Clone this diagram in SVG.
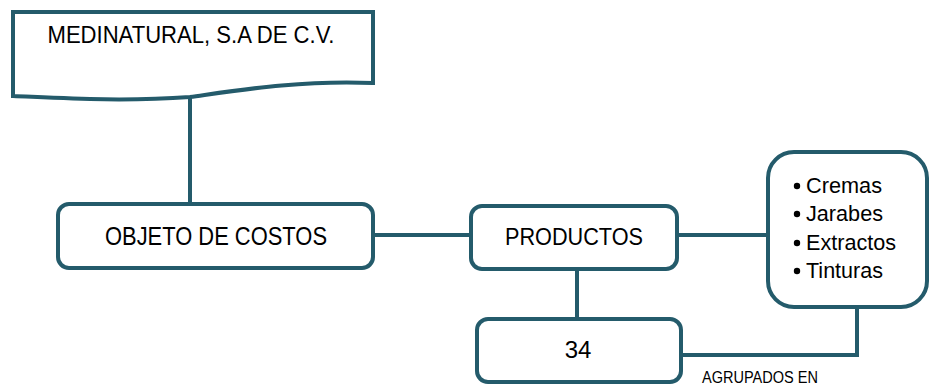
<svg xmlns="http://www.w3.org/2000/svg" width="929" height="387" viewBox="0 0 929 387">
<style>
.box{fill:#fff;stroke:#245b6b;stroke-width:4}
.ln{fill:none;stroke:#245b6b;stroke-width:4}
.t{font-family:"Liberation Sans",Arial,sans-serif;fill:#000}
</style>
<rect width="929" height="387" fill="#fff"/>
<g id="connectors">
<line class="ln" x1="190" y1="97" x2="190" y2="205"/>
<line class="ln" x1="373" y1="235" x2="471" y2="235"/>
<line class="ln" x1="677" y1="235" x2="768" y2="235"/>
<line class="ln" x1="577" y1="269" x2="577" y2="318"/>
<polyline class="ln" points="679,355 857,355 857,307"/>
</g>
<g id="medinatural">
<path class="box" d="M13,12 H373 V83 C300,80 240,90 190,97 C120,102 60,98 13,96 Z"/>
<text class="t" x="191" y="43" font-size="24" text-anchor="middle" textLength="287" lengthAdjust="spacingAndGlyphs">MEDINATURAL, S.A DE C.V.</text>
</g>
<g id="objeto">
<rect class="box" x="58" y="204" width="315" height="64" rx="11"/>
<text class="t" x="216" y="245" font-size="25" text-anchor="middle" textLength="222" lengthAdjust="spacingAndGlyphs">OBJETO DE COSTOS</text>
</g>
<g id="productos">
<rect class="box" x="471" y="206" width="206" height="63" rx="11"/>
<text class="t" x="574" y="245" font-size="24" text-anchor="middle" textLength="138" lengthAdjust="spacingAndGlyphs">PRODUCTOS</text>
</g>
<g id="tipos">
<rect class="box" x="768" y="152" width="159" height="155" rx="26"/>
<g class="t" font-size="22">
<circle cx="797" cy="186" r="3.2"/>
<text x="806" y="193" textLength="76" lengthAdjust="spacingAndGlyphs">Cremas</text>
<circle cx="797" cy="214" r="3.2"/>
<text x="806" y="221" textLength="77" lengthAdjust="spacingAndGlyphs">Jarabes</text>
<circle cx="797" cy="243" r="3.2"/>
<text x="806" y="250" textLength="90" lengthAdjust="spacingAndGlyphs">Extractos</text>
<circle cx="797" cy="271" r="3.2"/>
<text x="806" y="278" textLength="77" lengthAdjust="spacingAndGlyphs">Tinturas</text>
</g>
</g>
<g id="n34">
<rect class="box" x="477" y="319" width="204" height="63" rx="11"/>
<text class="t" x="578" y="358" font-size="24" text-anchor="middle">34</text>
</g>
<g id="label">
<text class="t" x="702" y="383" font-size="16" textLength="116" lengthAdjust="spacingAndGlyphs">AGRUPADOS EN</text>
</g>
</svg>
